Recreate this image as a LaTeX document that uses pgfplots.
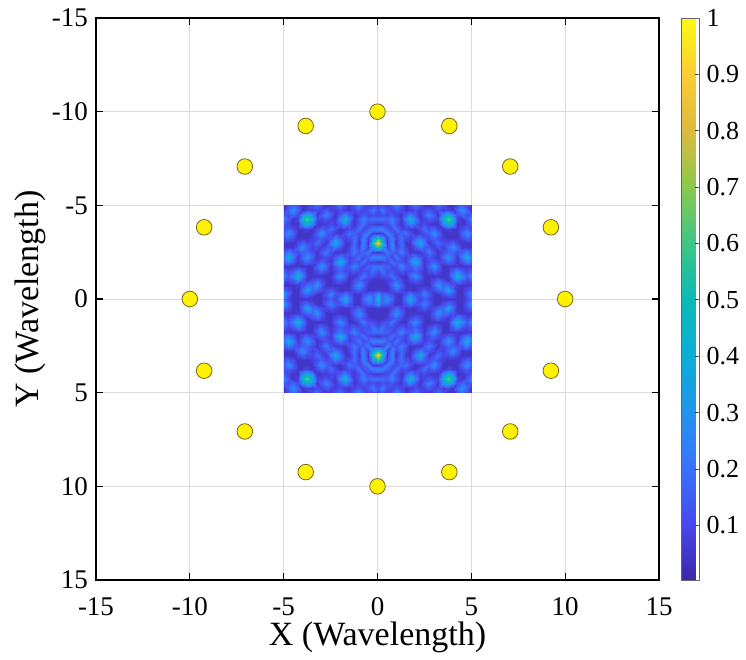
\documentclass[border=0pt]{standalone}
\usepackage{fontspec}
\setmainfont{Liberation Serif}
\usepackage{pgfplots}
\usepackage{pgfplotstable}
\pgfplotsset{compat=1.18}

\definecolor{elemfill}{RGB}{255,242,0}
\definecolor{elemedge}{RGB}{115,105,35}

% one quadrant (x>=0, y>=0) of the normalised field; the map is mirror-symmetric in x and y
\pgfplotstableread{
x y c
0 0 .50
0.25 0 .15
0.5 0 .30
0.75 0 .165
1 0 .05
1.25 0 .057
1.5 0 .21
1.75 0 .40
2 0 .21
2.25 0 .09
2.5 0 .14
2.75 0 .09
3 0 .05
3.25 0 .05
3.5 0 .05
3.75 0 .05
4 0 .05
4.25 0 .05
4.5 0 .05
4.75 0 .105
5 0 .165
0 0.25 .30
0.25 0.25 .16
0.5 0.25 .165
0.75 0.25 .105
1 0.25 .05
1.25 0.25 .05
1.5 0.25 .13
1.75 0.25 .21
2 0.25 .13
2.25 0.25 .14
2.5 0.25 .25
2.75 0.25 .14
3 0.25 .05
3.25 0.25 .05
3.5 0.25 .115
3.75 0.25 .18
4 0.25 .115
4.25 0.25 .05
4.5 0.25 .05
4.75 0.25 .165
5 0.25 .30
0 0.5 .07
0.25 0.5 .05
0.5 0.5 .05
0.75 0.5 .105
1 0.5 .165
1.25 0.5 .105
1.5 0.5 .05
1.75 0.5 .057
2 0.5 .05
2.25 0.5 .09
2.5 0.5 .14
2.75 0.5 .09
3 0.5 .105
3.25 0.5 .165
3.5 0.5 .18
3.75 0.5 .36
4 0.5 .18
4.25 0.5 .05
4.5 0.5 .05
4.75 0.5 .105
5 0.5 .165
0 0.75 .05
0.25 0.75 .05
0.5 0.75 .05
0.75 0.75 .165
1 0.75 .30
1.25 0.75 .165
1.5 0.75 .05
1.75 0.75 .05
2 0.75 .05
2.25 0.75 .05
2.5 0.75 .05
2.75 0.75 .05
3 0.75 .165
3.25 0.75 .30
3.5 0.75 .165
3.75 0.75 .18
4 0.75 .115
4.25 0.75 .063
4.5 0.75 .05
4.75 0.75 .05
5 0.75 .05
0 1 .05
0.25 1 .05
0.5 1 .077
0.75 1 .12
1 1 .165
1.25 1 .105
1.5 1 .05
1.75 1 .10
2 1 .155
2.25 1 .10
2.5 1 .05
2.75 1 .05
3 1 .105
3.25 1 .165
3.5 1 .105
3.75 1 .05
4 1 .15
4.25 1 .25
4.5 1 .15
4.75 1 .09
5 1 .14
0 1.25 .07
0.25 1.25 .11
0.5 1.25 .12
0.75 1.25 .22
1 1.25 .12
1.25 1.25 .05
1.5 1.25 .05
1.75 1.25 .155
2 1.25 .28
2.25 1.25 .155
2.5 1.25 .05
2.75 1.25 .05
3 1.25 .05
3.25 1.25 .05
3.5 1.25 .05
3.75 1.25 .063
4 1.25 .25
4.25 1.25 .45
4.5 1.25 .25
4.75 1.25 .14
5 1.25 .25
0 1.5 .11
0.25 1.5 .20
0.5 1.5 .11
0.75 1.5 .12
1 1.5 .09
1.25 1.5 .14
1.5 1.5 .09
1.75 1.5 .10
2 1.5 .155
2.25 1.5 .10
2.5 1.5 .05
2.75 1.5 .105
3 1.5 .165
3.25 1.5 .105
3.5 1.5 .05
3.75 1.5 .05
4 1.5 .15
4.25 1.5 .25
4.5 1.5 .15
4.75 1.5 .09
5 1.5 .14
0 1.75 .20
0.25 1.75 .19
0.5 1.75 .16
0.75 1.75 .10
1 1.75 .14
1.25 1.75 .25
1.5 1.75 .14
1.75 1.75 .14
2 1.75 .22
2.25 1.75 .14
2.5 1.75 .05
2.75 1.75 .165
3 1.75 .30
3.25 1.75 .165
3.5 1.75 .05
3.75 1.75 .05
4 1.75 .05
4.25 1.75 .063
4.5 1.75 .05
4.75 1.75 .06
5 1.75 .05
0 2 .05
0.25 2 .08
0.5 2 .10
0.75 2 .20
1 2 .12
1.25 2 .14
1.5 2 .09
1.75 2 .22
2 2 .42
2.25 2 .22
2.5 2 .06
2.75 2 .105
3 2 .165
3.25 2 .105
3.5 2 .105
3.75 2 .165
4 2 .105
4.25 2 .05
4.5 2 .14
4.75 2 .22
5 2 .14
0 2.25 .26
0.25 2.25 .25
0.5 2.25 .15
0.75 2.25 .10
1 2.25 .20
1.25 2.25 .12
1.5 2.25 .077
1.75 2.25 .14
2 2.25 .22
2.25 2.25 .14
2.5 2.25 .077
2.75 2.25 .12
3 2.25 .077
3.25 2.25 .05
3.5 2.25 .165
3.75 2.25 .30
4 2.25 .165
4.25 2.25 .06
4.5 2.25 .22
4.75 2.25 .42
5 2.25 .22
0 2.5 .05
0.25 2.5 .08
0.5 2.5 .22
0.75 2.5 .15
1 2.5 .12
1.25 2.5 .22
1.5 2.5 .12
1.75 2.5 .05
2 2.5 .06
2.25 2.5 .06
2.5 2.5 .12
2.75 2.5 .22
3 2.5 .12
3.25 2.5 .05
3.5 2.5 .105
3.75 2.5 .165
4 2.5 .165
4.25 2.5 .105
4.5 2.5 .14
4.75 2.5 .22
5 2.5 .14
0 2.75 .55
0.25 2.75 .32
0.5 2.75 .08
0.75 2.75 .25
1 2.75 .08
1.25 2.75 .19
1.5 2.75 .077
1.75 2.75 .05
2 2.75 .14
2.25 2.75 .22
2.5 2.75 .14
2.75 2.75 .12
3 2.75 .077
3.25 2.75 .11
3.5 2.75 .07
3.75 2.75 .165
4 2.75 .30
4.25 2.75 .165
4.5 2.75 .05
4.75 2.75 .06
5 2.75 .05
0 3 .90
0.25 3 .55
0.5 3 .05
0.75 3 .26
1 3 .05
1.25 3 .20
1.5 3 .05
1.75 3 .06
2 3 .22
2.25 3 .42
2.5 3 .22
2.75 3 .06
3 3 .11
3.25 3 .20
3.5 3 .11
3.75 3 .105
4 3 .165
4.25 3 .105
4.5 3 .05
4.75 3 .05
5 3 .05
0 3.25 .55
0.25 3.25 .32
0.5 3.25 .08
0.75 3.25 .25
1 3.25 .08
1.25 3.25 .19
1.5 3.25 .11
1.75 3.25 .07
2 3.25 .14
2.25 3.25 .22
2.5 3.25 .14
2.75 3.25 .105
3 3.25 .165
3.25 3.25 .11
3.5 3.25 .07
3.75 3.25 .05
4 3.25 .05
4.25 3.25 .05
4.5 3.25 .105
4.75 3.25 .165
5 3.25 .105
0 3.5 .05
0.25 3.5 .08
0.5 3.5 .22
0.75 3.5 .15
1 3.5 .10
1.25 3.5 .16
1.5 3.5 .20
1.75 3.5 .11
2 3.5 .05
2.25 3.5 .07
2.5 3.5 .11
2.75 3.5 .165
3 3.5 .30
3.25 3.5 .165
3.5 3.5 .05
3.75 3.5 .05
4 3.5 .05
4.25 3.5 .05
4.5 3.5 .165
4.75 3.5 .30
5 3.5 .165
0 3.75 .26
0.25 3.75 .25
0.5 3.75 .15
0.75 3.75 .10
1 3.75 .20
1.25 3.75 .10
1.5 3.75 .11
1.75 3.75 .07
2 3.75 .05
2.25 3.75 .11
2.5 3.75 .20
2.75 3.75 .11
3 3.75 .165
3.25 3.75 .105
3.5 3.75 .05
3.75 3.75 .093
4 3.75 .05
4.25 3.75 .05
4.5 3.75 .105
4.75 3.75 .165
5 3.75 .105
0 4 .05
0.25 4 .08
0.5 4 .10
0.75 4 .20
1 4 .12
1.25 4 .05
1.5 4 .15
1.75 4 .25
2 4 .15
2.25 4 .07
2.5 4 .11
2.75 4 .07
3 4 .05
3.25 4 .05
3.5 4 .26
3.75 4 .42
4 4 .26
4.25 4 .05
4.5 4 .05
4.75 4 .09
5 4 .14
0 4.25 .20
0.25 4.25 .19
0.5 4.25 .16
0.75 4.25 .25
1 4.25 .14
1.25 4.25 .063
1.5 4.25 .25
1.75 4.25 .45
2 4.25 .25
2.25 4.25 .063
2.5 4.25 .09
2.75 4.25 .14
3 4.25 .09
3.25 4.25 .093
3.5 4.25 .42
3.75 4.25 .65
4 4.25 .42
4.25 4.25 .093
4.5 4.25 .05
4.75 4.25 .14
5 4.25 .25
0 4.5 .077
0.25 4.5 .12
0.5 4.5 .09
0.75 4.5 .14
1 4.5 .09
1.25 4.5 .05
1.5 4.5 .15
1.75 4.5 .25
2 4.5 .15
2.25 4.5 .05
2.5 4.5 .14
2.75 4.5 .25
3 4.5 .14
3.25 4.5 .05
3.5 4.5 .26
3.75 4.5 .42
4 4.5 .26
4.25 4.5 .105
4.5 4.5 .165
4.75 4.5 .105
5 4.5 .14
0 4.75 .12
0.25 4.75 .22
0.5 4.75 .12
0.75 4.75 .09
1 4.75 .14
1.25 4.75 .09
1.5 4.75 .05
1.75 4.75 .07
2 4.75 .11
2.25 4.75 .07
2.5 4.75 .09
2.75 4.75 .14
3 4.75 .09
3.25 4.75 .11
3.5 4.75 .07
3.75 4.75 .093
4 4.75 .05
4.25 4.75 .165
4.5 4.75 .30
4.75 4.75 .165
5 4.75 .05
0 5 .077
0.25 5 .12
0.5 5 .077
0.75 5 .14
1 5 .25
1.25 5 .14
1.5 5 .05
1.75 5 .11
2 5 .20
2.25 5 .11
2.5 5 .05
2.75 5 .05
3 5 .11
3.25 5 .20
3.5 5 .11
3.75 5 .05
4 5 .05
4.25 5 .105
4.5 5 .165
4.75 5 .105
5 5 .05
}\field

\begin{document}
\begin{tikzpicture}
\begin{axis}[
  name=main,
  scale only axis, width=563pt, height=562pt,
  xmin=-15, xmax=15, ymin=-15, ymax=15, y dir=reverse,
  xtick={-15,-10,...,15}, ytick={-15,-10,...,15},
  tick align=inside, major tick length=7pt,
  tick style={black, line width=1.2pt},
  axis line style={black, line width=1.8pt},
  grid=major, grid style={black!14, line width=0.9pt},
  /pgf/number format/assume math mode=true,
  ticklabel style={font=\fontsize{27}{30}\selectfont},
  xticklabel style={anchor=base, inner sep=0pt, yshift=-35pt},
  yticklabel style={anchor=east, inner sep=0pt, xshift=-8pt},
  xlabel={X (Wavelength)}, ylabel={Y (Wavelength)},
  xlabel style={at={([yshift=-57pt]axis description cs:0.5,0)}, anchor=center, inner sep=0pt,
    font=\fontsize{34}{38}\selectfont},
  ylabel style={at={([xshift=-66pt]axis description cs:0,0.5)}, anchor=center, inner sep=0pt,
    font=\fontsize{34}{38}\selectfont},
  colormap={parula}{
    rgb=(0.2422,0.1504,0.6603) rgb=(0.2780,0.2840,0.9300)
    rgb=(0.2200,0.4500,0.9900) rgb=(0.1300,0.5800,0.9300)
    rgb=(0.0500,0.6800,0.8400) rgb=(0.0400,0.7300,0.7100)
    rgb=(0.2400,0.7800,0.5200) rgb=(0.5400,0.7900,0.3000)
    rgb=(0.8700,0.7300,0.2400) rgb=(0.9900,0.8000,0.2000)
    rgb=(0.9769,0.9839,0.0805)},
  point meta min=0.003, point meta max=1,
  colorbar,
  colorbar shift/.style={xshift=9pt},
  colorbar style={
    width=18pt,
    ytick={0.1,0.2,0.3,0.4,0.5,0.6,0.7,0.8,0.9,1},
    ytick pos=right, tick align=inside, major tick length=5pt,
    tick style={black!70, line width=0.8pt},
    axis line style={black!60, line width=0.8pt},
    grid=none,
    /pgf/number format/assume math mode=true,
    yticklabel style={font=\fontsize{26}{30}\selectfont, anchor=west, inner sep=0pt, xshift=7pt,
      /pgf/number format/fixed, /pgf/number format/precision=1},
  },
  field/.style={surf, shader=interp, mesh/cols=21, point meta=explicit, forget plot},
]
\addplot[field] table[x=x, y=y, meta=c]{\field};
\addplot[field] table[x expr=-\thisrow{x}, y=y, meta=c]{\field};
\addplot[field] table[x=x, y expr=-\thisrow{y}, meta=c]{\field};
\addplot[field] table[x expr=-\thisrow{x}, y expr=-\thisrow{y}, meta=c]{\field};

% array elements on a circle of radius 10
\addplot[only marks, mark=*, mark size=7.8pt,
  mark options={fill=elemfill, draw=elemedge, line width=0.8pt}, point meta=none]
  coordinates {
    (10,0) (9.239,3.827) (7.071,7.071) (3.827,9.239)
    (0,10) (-3.827,9.239) (-7.071,7.071) (-9.239,3.827)
    (-10,0) (-9.239,-3.827) (-7.071,-7.071) (-3.827,-9.239)
    (0,-10) (3.827,-9.239) (7.071,-7.071) (9.239,-3.827)
  };
\end{axis}
% page margins as in the reference
\path ([xshift=-96pt, yshift=18pt]main.north west) rectangle ([xshift=87pt, yshift=-80pt]main.south east);
\end{tikzpicture}
\end{document}
